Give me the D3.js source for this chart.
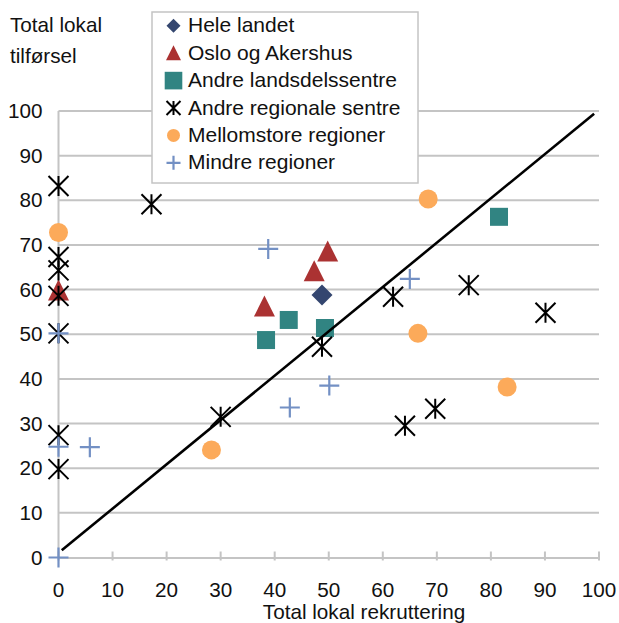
<!DOCTYPE html>
<html><head><meta charset="utf-8">
<script src="https://cdn.jsdelivr.net/npm/d3@7"></script>
<style>body{margin:0;background:#fff}svg{display:block;font-family:"Liberation Sans",Arial,sans-serif}</style>
</head><body><svg id="c" width="619" height="623"></svg>
<script>
const seriesNames = ["Hele landet","Oslo og Akershus","Andre landsdelssentre","Andre regionale sentre","Mellomstore regioner","Mindre regioner"];
const heleX = [48.75], heleY = [58.8];
const osloX = [0, 38.1, 47.3, 49.8], osloY = [59.8, 56.2, 64.1, 68.5];
const landsX = [38.4, 42.6, 49.3, 81.5], landsY = [48.7, 53.2, 51.4, 76.3];
const regX = [0,0,0,0,0,0,0,17.2,30.0,48.75,61.9,64.1,69.7,75.9,90.1];
const regY = [83.2,67.3,64.3,58.6,50.2,27.4,19.8,79.1,31.5,47.2,58.4,29.5,33.3,61.0,54.8];
const mellomX = [0,28.3,66.5,68.4,83.0], mellomY = [72.8,24.1,50.2,80.3,38.2];
const mindreX = [0,0,0,5.8,38.8,42.8,50.1,65.0], mindreY = [0,24.8,50.2,24.7,69.1,33.6,38.5,62.4];
const lineX = [0.6, 99.1], lineY = [1.6, 99.4];
const xTicks = [0,10,20,30,40,50,60,70,80,90,100];
const yTicks = [0,10,20,30,40,50,60,70,80,90,100];
const xTitle = "Total lokal rekruttering";
const yTitle = ["Total lokal","tilførsel"];

const svg = d3.select("#c");
const x = d3.scaleLinear().domain([0,100]).range([58.5,599]);
const y = d3.scaleLinear().domain([0,100]).range([557.5,111]);
const grid = "#c4c4c4", txt = "#111", fs = 20.7;

// gridlines
svg.append("g").selectAll("line").data(yTicks.filter(d=>d>0)).join("line")
  .attr("x1",x(0)).attr("x2",x(100)).attr("y1",d=>y(d)).attr("y2",d=>y(d))
  .attr("stroke",grid).attr("stroke-width",2);
// y axis line
svg.append("line").attr("x1",x(0)).attr("x2",x(0)).attr("y1",y(100)).attr("y2",y(0)).attr("stroke",grid).attr("stroke-width",2);
// x axis
const xa = svg.append("g").attr("transform",`translate(0,${y(0)})`)
  .call(d3.axisBottom(x).tickValues(xTicks).tickSize(0).tickFormat(""));
xa.select(".domain").attr("stroke",grid).attr("stroke-width",2);
svg.append("g").selectAll("line").data(xTicks).join("line")
  .attr("x1",d=>x(d)).attr("x2",d=>x(d)).attr("y1",y(0)-6).attr("y2",y(0)+3)
  .attr("stroke",grid).attr("stroke-width",2);
svg.append("g").selectAll("text").data(xTicks).join("text")
  .attr("x",d=>x(d)).attr("y",597).attr("text-anchor","middle").attr("font-size",fs).attr("fill",txt).text(d=>d);
svg.append("g").selectAll("text").data(yTicks).join("text")
  .attr("x",42.5).attr("y",d=>y(d)+7).attr("text-anchor","end").attr("font-size",fs).attr("fill",txt).text(d=>d);
svg.append("text").attr("x",364).attr("y",619).attr("text-anchor","middle").attr("font-size",fs).attr("fill",txt).text(xTitle);
svg.selectAll(".yt").data(yTitle).join("text").attr("class","yt")
  .attr("x",10).attr("y",(d,i)=>32.3+i*31).attr("font-size",fs).attr("fill",txt).text(d=>d);

// marker drawers
const colors = ["#34466f","#ab3232","#318482","#000000","#fcaa5a","#7390c4"];
function marker(g, type, s){
  if(type===0){ g.append("path").attr("d",`M0,${-s}L${s},0L0,${s}L${-s},0Z`).attr("fill",colors[0]); }
  else if(type===1){ g.append("path").attr("d",`M0,${-s*1.05}L${s},${s*0.95}L${-s},${s*0.95}Z`).attr("fill",colors[1]); }
  else if(type===2){ g.append("rect").attr("x",-s).attr("y",-s).attr("width",2*s).attr("height",2*s).attr("fill",colors[2]); }
  else if(type===3){ g.append("path").attr("d",`M${-s},${-s}L${s},${s}M${s},${-s}L${-s},${s}M0,${-s}L0,${s}`).attr("stroke",colors[3]).attr("stroke-width",2).attr("fill","none"); }
  else if(type===4){ g.append("circle").attr("r",s).attr("fill",colors[4]); }
  else if(type===5){ g.append("path").attr("d",`M${-s},0H${s}M0,${-s}V${s}`).attr("stroke",colors[5]).attr("stroke-width",2.2).attr("fill","none"); }
}
const sets = [[heleX,heleY,10.5],[osloX,osloY,10.5],[landsX,landsY,9],[regX,regY,10],[mellomX,mellomY,9.5],[mindreX,mindreY,10]];
sets.forEach(([xs,ys,s],t)=>{
  const pts = xs.map((v,i)=>[v,ys[i]]);
  const g = svg.append("g");
  pts.forEach(p=>{ marker(g.append("g").attr("transform",`translate(${x(p[0])},${y(p[1])})`), t, s); });
});
// diagonal line
svg.append("path").datum(lineX.map((v,i)=>[v,lineY[i]]))
  .attr("d",d3.line().x(d=>x(d[0])).y(d=>y(d[1]))).attr("stroke","#000").attr("stroke-width",2.6).attr("fill","none");

// legend
const lg = svg.append("g");
lg.append("rect").attr("x",152).attr("y",12).attr("width",266).attr("height",171).attr("fill","#fff").attr("stroke","#c4c4c4").attr("stroke-width",1.5);
const legS = [7,7.5,8.8,7,6.5,7];
seriesNames.forEach((n,i)=>{
  const by = 32.3 + i*27.4;
  marker(lg.append("g").attr("transform",`translate(173.5,${by-6.5})`), i, legS[i]);
  lg.append("text").attr("x",188).attr("y",by).attr("font-size",21).attr("fill",txt).text(n);
});
</script></body></html>
